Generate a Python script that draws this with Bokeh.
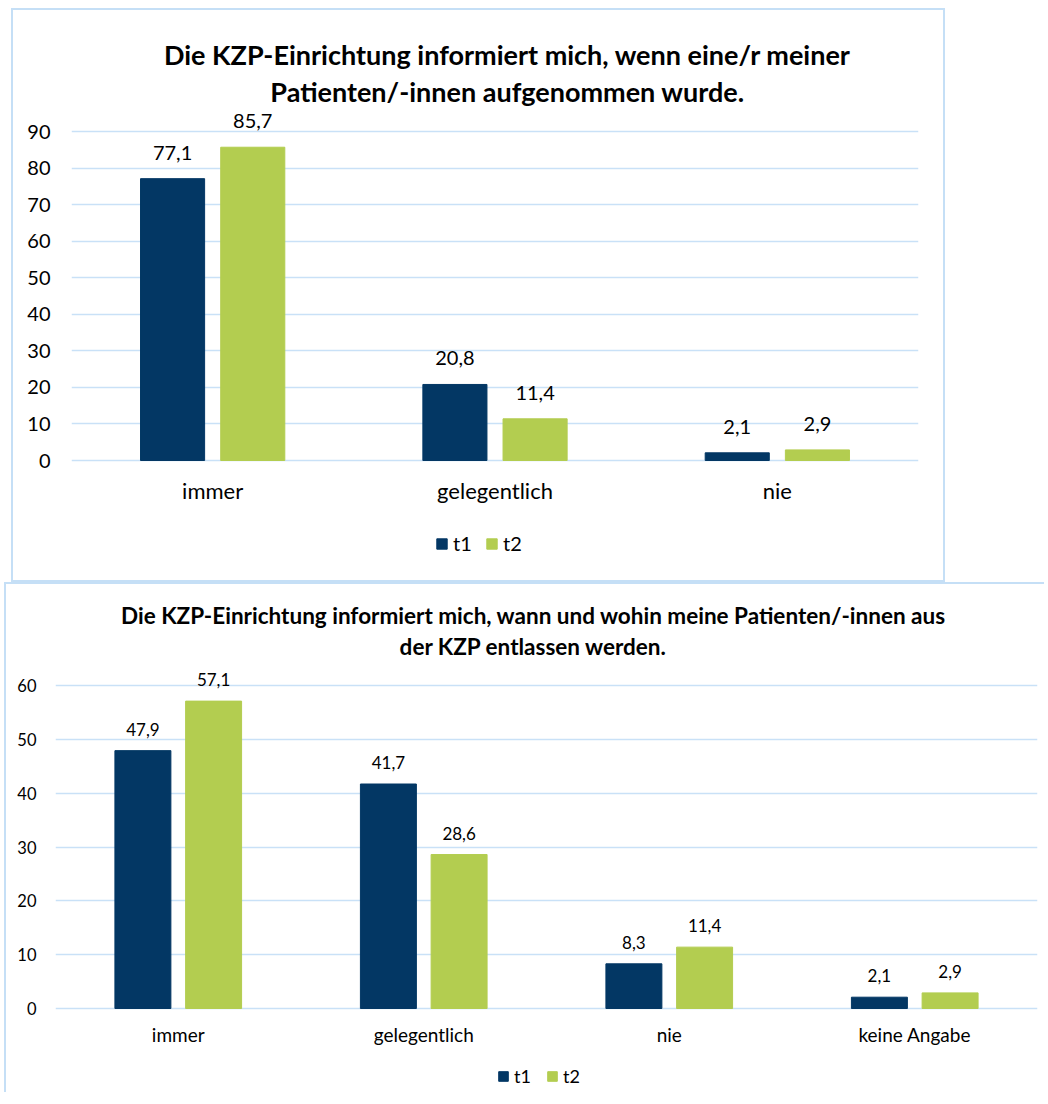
from bokeh.plotting import figure
from bokeh.models import (ColumnDataSource, LabelSet, Label, Legend, LegendItem,
                          FactorRange, Range1d, FixedTicker)
from bokeh.layouts import column
from bokeh.transform import dodge
from bokeh.core.properties import value
from bokeh.embed import file_html
from bokeh.resources import INLINE

# ---------------- data ----------------
series_names = ["t1", "t2"]

categories_1 = ["immer", "gelegentlich", "nie"]
t1_values_1 = [77.1, 20.8, 2.1]
t2_values_1 = [85.7, 11.4, 2.9]
title_1 = ["Die KZP-Einrichtung informiert mich, wenn eine/r meiner",
           "Patienten/-innen aufgenommen wurde."]
y_ticks_1 = [0, 10, 20, 30, 40, 50, 60, 70, 80, 90]

categories_2 = ["immer", "gelegentlich", "nie", "keine Angabe"]
t1_values_2 = [47.9, 41.7, 8.3, 2.1]
t2_values_2 = [57.1, 28.6, 11.4, 2.9]
title_2 = ["Die KZP-Einrichtung informiert mich, wann und wohin meine Patienten/-innen aus",
           "der KZP entlassen werden."]
y_ticks_2 = [0, 10, 20, 30, 40, 50, 60]

# ---------------- style ----------------
C_T1 = "#033764"
C_T2 = "#b3cd50"
C_GRID = "#c9e1f7"
C_BOX = "#c5dff6"
FONT = "Lato"


def fmt(v):
    return ("%.1f" % v).replace(".", ",")


def make_chart(cats, v1, v2, titles, yticks, c):
    # layout in page pixels: figure top/left, frame left/right, pixel of 0 and of top tick
    ppu = (c["y0"] - c["ytop"]) / yticks[-1]
    fig_bottom = c["top"] + c["h"]
    y_start = -(fig_bottom - c["y0"]) / ppu
    y_end = (c["y0"] - c["top"]) / ppu
    p = figure(x_range=FactorRange(factors=cats, range_padding=0),
               y_range=Range1d(y_start, y_end),
               width=c["w"], height=c["h"],
               output_backend="svg", toolbar_location=None,
               min_border_left=c["fl"] - c["left"],
               min_border_right=c["left"] + c["w"] - c["fr"],
               min_border_top=0, min_border_bottom=0,
               border_fill_color=None, background_fill_color=None,
               outline_line_color=None)
    if hasattr(p, "frame_align"):
        p.frame_align = False
    p.title.visible = False
    src = ColumnDataSource(dict(cat=cats, t1=v1, t2=v2,
                                l1=[fmt(v) for v in v1], l2=[fmt(v) for v in v2]))
    off = c["off"]
    bw = c["bw"]
    r1 = p.vbar(x=dodge("cat", -off, range=p.x_range), top="t1", width=bw,
                source=src, fill_color=C_T1, line_color=C_T1)
    r2 = p.vbar(x=dodge("cat", off, range=p.x_range), top="t2", width=bw,
                source=src, fill_color=C_T2, line_color=C_T2)
    for col, lab, o in (("t1", "l1", -off), ("t2", "l2", off)):
        p.add_layout(LabelSet(x=dodge("cat", o, range=p.x_range), y=col, text=lab,
                              source=src, text_align="center",
                              text_baseline="alphabetic", y_offset=c["vo"],
                              text_font=value(FONT), text_font_size=value(c["fv"]),
                              text_color=value("#000000")))
    # category labels under the zero line
    p.add_layout(LabelSet(x="cat", y=0, text="cat", source=src,
                          text_align="center", text_baseline="alphabetic",
                          y_offset=-c["cb"], text_font=value(FONT),
                          text_font_size=value(c["fc"]),
                          text_color=value("#000000")))
    p.xaxis.visible = False
    p.yaxis.ticker = FixedTicker(ticks=yticks)
    p.yaxis.axis_line_color = None
    p.yaxis.major_tick_line_color = None
    p.yaxis.minor_tick_line_color = None
    p.yaxis.major_tick_out = 0
    p.yaxis.major_label_text_font = FONT
    p.yaxis.major_label_text_font_size = c["fd"]
    p.yaxis.major_label_text_color = "#000000"
    p.yaxis.major_label_standoff = c["ys"]
    p.xgrid.grid_line_color = None
    p.ygrid.ticker = FixedTicker(ticks=yticks)
    p.ygrid.grid_line_color = C_GRID
    p.ygrid.grid_line_width = 1.5
    # title lines (screen units relative to frame bottom-left)
    for txt, ty in zip(titles, c["ty"]):
        p.add_layout(Label(x=c["tx"] - c["fl"], y=fig_bottom - ty,
                           x_units="screen", y_units="screen",
                           text=txt, text_align="center", text_baseline="alphabetic",
                           text_font=FONT, text_font_style="bold",
                           text_font_size=c["ft"], text_color="#000000"))
    # legend
    lx, ly = c["lg"]
    leg = Legend(items=[LegendItem(label=series_names[0], renderers=[r1]),
                        LegendItem(label=series_names[1], renderers=[r2])],
                 location=(lx - c["fl"], fig_bottom - ly), orientation="horizontal",
                 glyph_width=c["gw"], glyph_height=c["gw"],
                 label_standoff=5, spacing=12, padding=0, margin=0,
                 border_line_color=None, background_fill_color=None,
                 label_text_font=FONT, label_text_font_size=c["fl_s"],
                 label_text_color="#000000", label_height=c["gw"])
    p.add_layout(leg, "center")
    return p


cfg1 = dict(left=11, top=8, w=934, h=574, fl=71, fr=918, y0=460, ytop=131,
            off=0.142, bw=0.227, fd="20px", fv="20px", fc="22px", ft="27px",
            fl_s="20px", vo=19, cb=38, ys=21, tx=507, ty=[54, 91],
            lg=(435, 555), gw=13)
cfg2 = dict(left=4, top=582, w=1040, h=510, fl=55, fr=1037, y0=1008, ytop=685,
            off=0.144, bw=0.228, fd="16.5px", fv="17px", fc="19px", ft="22.5px",
            fl_s="18px", vo=15, cb=33, ys=19, tx=533, ty=[615, 646],
            lg=(497, 1087), gw=12)

p1 = make_chart(categories_1, t1_values_1, t2_values_1, title_1, y_ticks_1, cfg1)
p2 = make_chart(categories_2, t1_values_2, t2_values_2, title_2, y_ticks_2, cfg2)
p1.margin = (cfg1["top"], 0, 0, cfg1["left"])
p2.margin = (0, 0, 0, cfg2["left"])
p1.styles = {"box-shadow": "inset 0 0 0 2px " + C_BOX}
p2.styles = {"box-shadow": "inset 2px 2px 0 0 " + C_BOX}

layout = column(p1, p2, spacing=0)
open("out.html", "w").write(file_html(layout, INLINE))
